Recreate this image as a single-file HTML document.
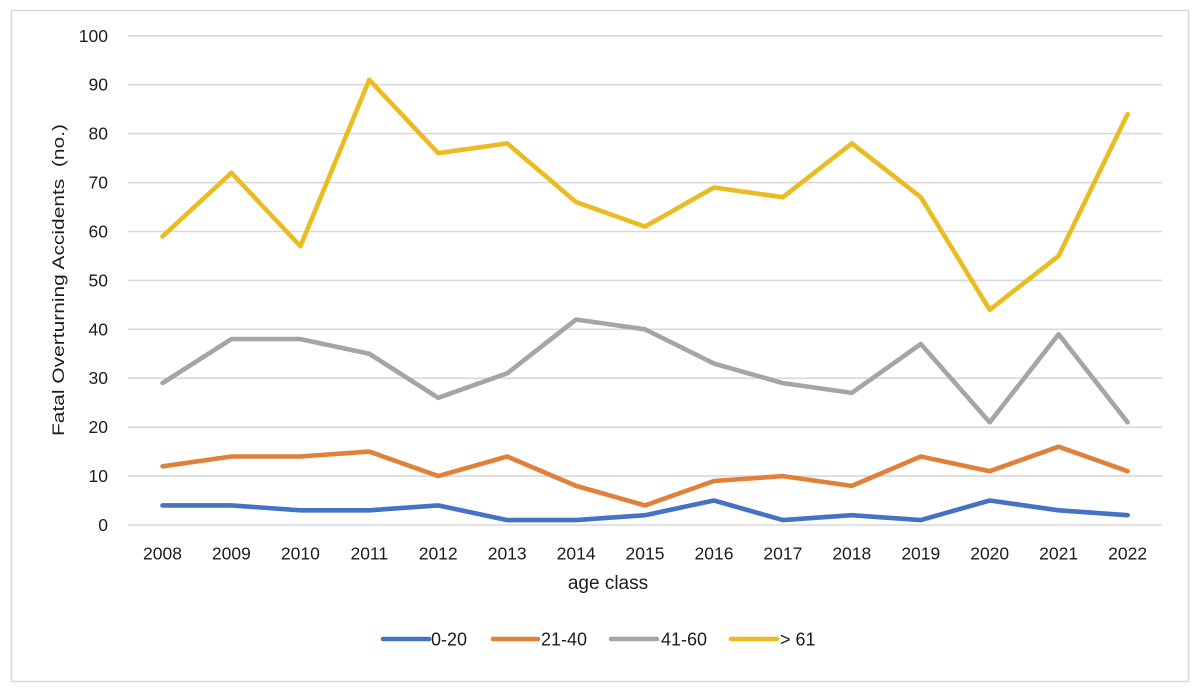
<!DOCTYPE html>
<html><head><meta charset="utf-8"><style>
html,body{margin:0;padding:0;background:#fff;}
svg{display:block;}
text{font-family:"Liberation Sans",sans-serif;fill:#1c1c1c;}
</style></head><body>
<svg width="1200" height="694" viewBox="0 0 1200 694" xmlns="http://www.w3.org/2000/svg">
<rect x="0" y="0" width="1200" height="694" fill="#fff"/>
<rect x="11.5" y="10.5" width="1177" height="671" fill="none" stroke="#D9D9D9" stroke-width="1.5"/>
<g stroke="#D9D9D9" stroke-width="1.6">
<line x1="128" x2="1162" y1="525" y2="525"/>
<line x1="128" x2="1162" y1="476.1" y2="476.1"/>
<line x1="128" x2="1162" y1="427.2" y2="427.2"/>
<line x1="128" x2="1162" y1="378.2" y2="378.2"/>
<line x1="128" x2="1162" y1="329.3" y2="329.3"/>
<line x1="128" x2="1162" y1="280.4" y2="280.4"/>
<line x1="128" x2="1162" y1="231.5" y2="231.5"/>
<line x1="128" x2="1162" y1="182.6" y2="182.6"/>
<line x1="128" x2="1162" y1="133.6" y2="133.6"/>
<line x1="128" x2="1162" y1="84.7" y2="84.7"/>
<line x1="128" x2="1162" y1="35.8" y2="35.8"/>
</g>
<g font-size="17.5" text-anchor="end">
<text x="108" y="531">0</text>
<text x="108" y="482.1">10</text>
<text x="108" y="433.2">20</text>
<text x="108" y="384.2">30</text>
<text x="108" y="335.3">40</text>
<text x="108" y="286.4">50</text>
<text x="108" y="237.5">60</text>
<text x="108" y="188.6">70</text>
<text x="108" y="139.6">80</text>
<text x="108" y="90.7">90</text>
<text x="108" y="41.8">100</text>
</g>
<g font-size="17.5" text-anchor="middle">
<text x="162.5" y="559.5">2008</text>
<text x="231.4" y="559.5">2009</text>
<text x="300.4" y="559.5">2010</text>
<text x="369.3" y="559.5">2011</text>
<text x="438.2" y="559.5">2012</text>
<text x="507.2" y="559.5">2013</text>
<text x="576.1" y="559.5">2014</text>
<text x="645.0" y="559.5">2015</text>
<text x="714.0" y="559.5">2016</text>
<text x="782.9" y="559.5">2017</text>
<text x="851.8" y="559.5">2018</text>
<text x="920.8" y="559.5">2019</text>
<text x="989.7" y="559.5">2020</text>
<text x="1058.6" y="559.5">2021</text>
<text x="1127.6" y="559.5">2022</text>
</g>
<text x="608" y="589" font-size="19" text-anchor="middle">age class</text>
<text transform="translate(64,280) rotate(-90)" font-size="17" text-anchor="middle" textLength="312" lengthAdjust="spacingAndGlyphs" xml:space="preserve">Fatal Overturning Accidents  (no.)</text>
<g fill="none" stroke-width="4.6" stroke-linejoin="round" stroke-linecap="round">
<polyline stroke="#4472C4" points="162.5,505.4 231.4,505.4 300.4,510.3 369.3,510.3 438.2,505.4 507.2,520.1 576.1,520.1 645.0,515.2 714.0,500.5 782.9,520.1 851.8,515.2 920.8,520.1 989.7,500.5 1058.6,510.3 1127.6,515.2"/>
<polyline stroke="#E0803A" points="162.5,466.3 231.4,456.5 300.4,456.5 369.3,451.6 438.2,476.1 507.2,456.5 576.1,485.9 645.0,505.4 714.0,481.0 782.9,476.1 851.8,485.9 920.8,456.5 989.7,471.2 1058.6,446.7 1127.6,471.2"/>
<polyline stroke="#A5A5A5" points="162.5,383.1 231.4,339.1 300.4,339.1 369.3,353.8 438.2,397.8 507.2,373.3 576.1,319.5 645.0,329.3 714.0,363.6 782.9,383.1 851.8,392.9 920.8,344.0 989.7,422.3 1058.6,334.2 1127.6,422.3"/>
<polyline stroke="#EBBB22" points="162.5,236.4 231.4,172.8 300.4,246.2 369.3,79.8 438.2,153.2 507.2,143.4 576.1,202.1 645.0,226.6 714.0,187.5 782.9,197.2 851.8,143.4 920.8,197.2 989.7,309.8 1058.6,255.9 1127.6,114.1"/>
</g>
<g stroke-width="4.6" stroke-linecap="round">
<line x1="383" x2="429" y1="639" y2="639" stroke="#4472C4"/>
<line x1="493" x2="538" y1="639" y2="639" stroke="#E0803A"/>
<line x1="611" x2="657" y1="639" y2="639" stroke="#A5A5A5"/>
<line x1="731" x2="777" y1="639" y2="639" stroke="#EBBB22"/>
</g>
<g font-size="18">
<text x="431" y="645.5">0-20</text>
<text x="541" y="645.5">21-40</text>
<text x="661" y="645.5">41-60</text>
<text x="780" y="645.5">&gt; 61</text>
</g>
</svg>
</body></html>
